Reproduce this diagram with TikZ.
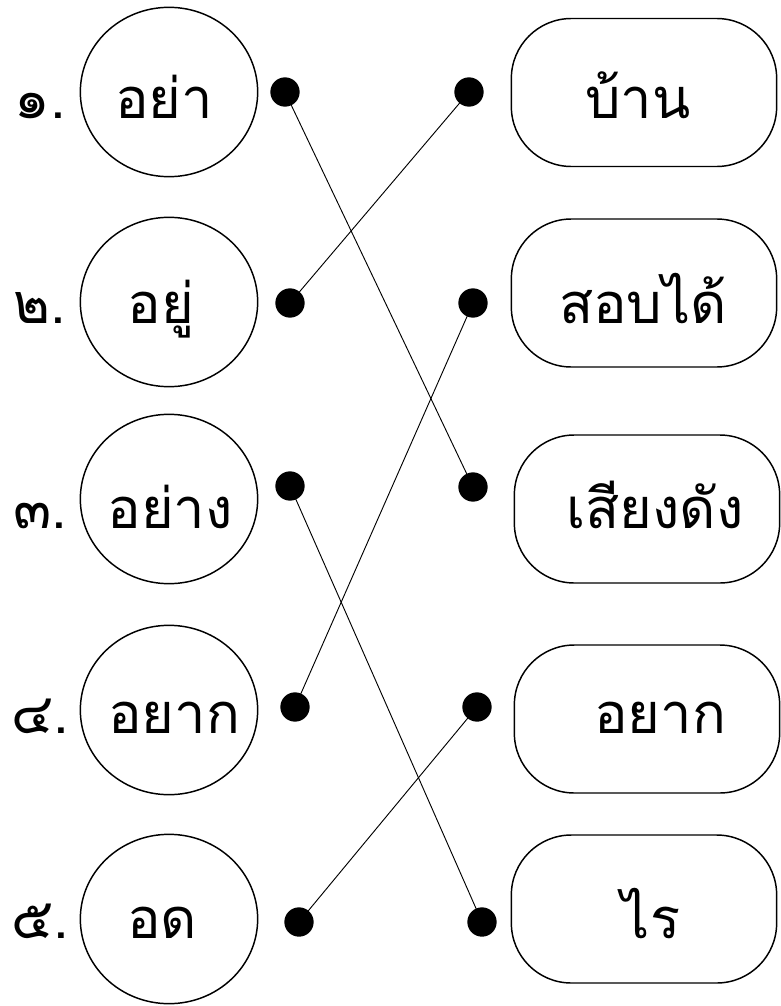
\documentclass[tikz,border=0pt]{standalone}
\usepackage{fontspec}
\usetikzlibrary{shapes.geometric}
\newfontfamily\thaifont[Script=Thai]{Loma}

\tikzset{
  word/.style={draw, ellipse, line width=1.1pt, minimum width=133pt, minimum height=127pt},
  meaning/.style={draw, rectangle, rounded corners=45pt, line width=1.1pt, minimum width=199pt, minimum height=111pt},
  joint/.style={circle, fill=black, inner sep=0pt, minimum size=22pt},
  txt/.style={font=\thaifont\fontsize{42}{50}\selectfont, anchor=base, inner sep=0pt},
  match/.style={line width=0.7pt}
}

\begin{document}
\begin{tikzpicture}[x=0.75pt, y=-0.75pt]
        \useasboundingbox (0,0) rectangle (781,1006);

        % left column
        \node[txt] (n1) at (40,118) {๑.};
        \node[txt] (n2) at (40,323) {๒.};
        \node[txt] (n3) at (40,528) {๓.};
        \node[txt] (n4) at (40,733) {๔.};
        \node[txt] (n5) at (40,938) {๕.};

        \node[word] (w1) at (169,92) {};
        \node[word] (w2) at (169,302) {};
        \node[word] (w3) at (169,499) {};
        \node[word] (w4) at (169,710) {};
        \node[word] (w5) at (169,919) {};
        \node[txt] (t1) at (164,118) {อย่า};
        \node[txt] (t2) at (161,323) {อยู่};
        \node[txt] (t3) at (170,528) {อย่าง};
        \node[txt] (t4) at (174,733) {อยาก};
        \node[txt] (t5) at (162,938) {อด};

        \node[joint] (l1) at (285,92) {};
        \node[joint] (l2) at (290,303) {};
        \node[joint] (l3) at (290,486) {};
        \node[joint] (l4) at (295,707) {};
        \node[joint] (l5) at (299,922) {};

        % right column
        \node[joint] (r1) at (469,92) {};
        \node[joint] (r2) at (473,303) {};
        \node[joint] (r3) at (473,487) {};
        \node[joint] (r4) at (477,707) {};
        \node[joint] (r5) at (482,922) {};

        \node[meaning] (m1) at (644,92.5) {};
        \node[meaning] (m2) at (644,293) {};
        \node[meaning] (m3) at (647,509) {};
        \node[meaning] (m4) at (647,719) {};
        \node[meaning] (m5) at (644,909) {};
        \node[txt] (s1) at (638,118) {บ้าน};
        \node[txt] (s2) at (643,323) {สอบได้};
        \node[txt] (s3) at (655,528) {เสียงดัง};
        \node[txt] (s4) at (660,733) {อยาก};
        \node[txt] (s5) at (651,938) {ไร};

        % matching lines
        \draw[match] (l1.center) -- (r3.center);
        \draw[match] (l2.center) -- (r1.center);
        \draw[match] (l3.center) -- (r5.center);
        \draw[match] (l4.center) -- (r2.center);
        \draw[match] (l5.center) -- (r4.center);
    \end{tikzpicture}
\end{document}
